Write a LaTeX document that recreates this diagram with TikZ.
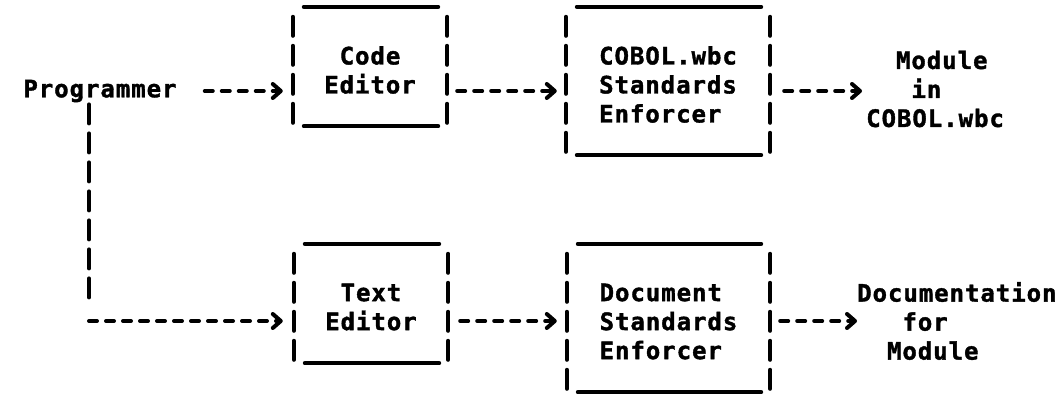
\documentclass[tikz,border=0pt]{standalone}
\usepackage{fontspec}
\usetikzlibrary{arrows.meta,calc}
\newfontfamily\ascfont[LetterSpace=4, BoldFeatures={FakeBold=1.5}]{DejaVu Sans Mono}

\tikzset{
  asc/.style={font=\ascfont\bfseries\fontsize{24}{29}\selectfont, inner sep=0pt},
  flow/.style={line width=4pt, line cap=round, dash pattern=on 8pt off 9pt,
    -{Straight Barb[length=8pt,width=14pt,round]}},
  bar/.style={line width=4pt, line cap=round, dash pattern=on 19pt off 10pt},
  rule/.style={line width=4pt, line cap=round}
}

\begin{document}
\begin{tikzpicture}[x=1pt,y=1pt]
  \useasboundingbox (0,0) rectangle (1061,397);

  % source
  \node[asc] (prog) at (100,306) {Programmer};
  \coordinate (bend) at (89,76);

  % boxes (frames drawn below)
  \node[asc, align=center, minimum width=154pt, minimum height=106pt] (code) at (370,327) {Code\\Editor};
  \node[asc, align=left, minimum width=204pt, minimum height=135pt] (cobol) at (668,312.5) {COBOL.wbc\\Standards\\Enforcer};
  \node[asc, align=center, minimum width=154pt, minimum height=106pt] (text) at (371,90) {Text\\Editor};
  \node[asc, align=left, minimum width=203pt, minimum height=135pt] (doc) at (668.5,75.5) {Document\\Standards\\Enforcer};

  % outputs
  \node[asc, align=left, anchor=west] (module) at (866,308) {\hphantom{MM}Module\\\hphantom{MMM}in\\COBOL.wbc};
  \node[asc, align=left, anchor=west] (docu) at (857,76) {Documentation\\\hphantom{MMM}for\\\hphantom{MM}Module};

  % ascii frames
  \foreach \b in {code,cobol,text,doc}{
    \draw[bar] (\b.north west) -- (\b.south west);
    \draw[bar] (\b.north east) -- (\b.south east);
    \draw[rule] ($(\b.north west)+(11,10)$) -- ($(\b.north east)+(-9,10)$);
    \draw[rule] ($(\b.south west)+(11,-3)$) -- ($(\b.south east)+(-9,-3)$);
  }

  % top row
  \draw[flow, shorten <=28pt, shorten >=10pt] (prog.east) -- (code.west |- prog);
  \draw[flow, shorten <=10pt, shorten >=9pt] (code.east |- prog) -- (cobol.west |- prog);
  \draw[flow, shorten <=14pt, shorten >=4pt] (cobol.east |- prog) -- (module.west |- prog);

  % down to the text editor
  \draw[bar, shorten <=2pt, shorten >=20pt] (prog.south -| bend) -- (bend);
  \draw[flow, shorten >=11pt] (bend) -- (text.west |- bend);
  \draw[flow, shorten <=12pt, shorten >=10pt] (text.east |- bend) -- (doc.west |- bend);
  \draw[flow, shorten <=10pt] (doc.east |- bend) -- (docu.west |- bend);
\end{tikzpicture}
\end{document}
